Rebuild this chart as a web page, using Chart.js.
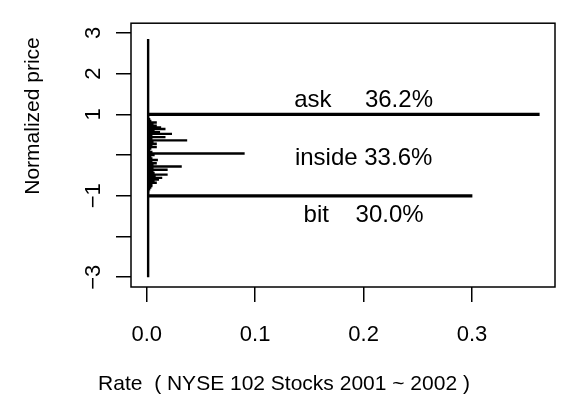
<!DOCTYPE html>
<html>
<head>
<meta charset="utf-8">
<script src="https://cdn.jsdelivr.net/npm/chart.js@4/dist/chart.umd.min.js"></script>
<style>
  html, body { margin: 0; padding: 0; background: #ffffff; }
  canvas { display: block; }
</style>
</head>
<body>
<canvas id="chart" width="571" height="403"></canvas>
<script>
// Trade rate at each normalized price level (bid = -1, ask = +1)
const quoteLevels = [1, -1];
const quoteNames = ['ask', 'bit'];
const quoteShares = [36.2, 30.0];      // percent of trades at the quote
const insideName = 'inside';
const insideShare = 33.6;              // percent of trades strictly inside the spread

// Price levels strictly inside the spread and their rates
const insideLevels = [
  0.96, 0.92, 0.88, 0.84, 0.80, 0.76, 0.72, 0.68, 0.64, 0.60,
  0.56, 0.52, 0.48, 0.44, 0.40, 0.36, 0.32, 0.28, 0.24, 0.20,
  0.16, 0.12, 0.08, 0.04, 0.00, -0.04, -0.08, -0.12, -0.16, -0.20,
  -0.24, -0.28, -0.32, -0.36, -0.40, -0.44, -0.48, -0.52, -0.56, -0.60,
  -0.64, -0.68, -0.72, -0.76, -0.80, -0.84, -0.88, -0.92, -0.96
];
const insideRates = [
  0.001, 0.002, 0.003, 0.004, 0.009, 0.006, 0.009, 0.013, 0.017, 0.007,
  0.012, 0.023, 0.005, 0.017, 0.005, 0.037, 0.006, 0.009, 0.005, 0.009,
  0.004, 0.003, 0.005, 0.090, 0.007, 0.004, 0.005, 0.010, 0.005, 0.009,
  0.006, 0.032, 0.006, 0.019, 0.006, 0.007, 0.019, 0.008, 0.014, 0.011,
  0.007, 0.009, 0.005, 0.005, 0.004, 0.003, 0.002, 0.002, 0.001
];

// Thin tail of rare prices outside the spread, spanning the whole price range
const tailLevels = [-3, 2.85];
const tailRate = 0.0013;

const xTicks = [0, 0.1, 0.2, 0.3];
const xTickLabels = ['0.0', '0.1', '0.2', '0.3'];
const yTicks = [-3, -2, -1, 0, 1, 2, 3];
const yTickLabels = ['\u22123', '', '\u22121', '', '1', '2', '3'];

const xTitle = 'Rate  ( NYSE 102 Stocks 2001 ~ 2002 )';
const yTitle = 'Normalized price';

const FONT = '"Liberation Sans", Arial, Helvetica, sans-serif';

// Text placement of the three share notes (data coordinates)
const noteX = 0.2;
const noteY = [1.35, -0.08, -1.47];
const noteTexts = [
  quoteNames[0] + '     ' + quoteShares[0].toFixed(1) + '%',
  insideName + ' ' + insideShare.toFixed(1) + '%',
  quoteNames[1] + '    ' + quoteShares[1].toFixed(1) + '%'
];

const toPoints = (levels, rates) => levels.map((lv, i) => ({ y: lv, x: rates[i] }));

// Frame, share notes and axis titles
const decorations = {
  id: 'decorations',
  afterDraw(chart) {
    const { ctx, chartArea: a, scales: { x, y } } = chart;
    ctx.save();
    ctx.strokeStyle = '#000';
    ctx.lineWidth = 1.5;
    ctx.strokeRect(a.left, a.top, a.right - a.left, a.bottom - a.top);

    ctx.fillStyle = '#000';
    ctx.textAlign = 'center';
    ctx.textBaseline = 'middle';
    ctx.font = '24px ' + FONT;
    noteTexts.forEach((t, i) => {
      ctx.fillText(t, x.getPixelForValue(noteX), y.getPixelForValue(noteY[i]));
    });

    ctx.font = '21px ' + FONT;
    ctx.fillText(xTitle, 284, 384);
    ctx.translate(33, 116);
    ctx.rotate(-Math.PI / 2);
    ctx.fillText(yTitle, 0, 0);
    ctx.restore();
  }
};

new Chart(document.getElementById('chart'), {
  type: 'bar',
  data: {
    datasets: [
      {
        type: 'line',
        data: tailLevels.map(lv => ({ y: lv, x: tailRate })),
        borderColor: '#000',
        borderWidth: 2.4,
        pointRadius: 0,
        fill: false
      },
      {
        data: toPoints(insideLevels, insideRates),
        backgroundColor: '#000',
        barThickness: 1.7,
        stack: 'levels'
      },
      {
        data: toPoints(quoteLevels, quoteShares.map(s => s / 100)),
        backgroundColor: '#000',
        barThickness: 2.6,
        stack: 'levels'
      }
    ]
  },
  options: {
    indexAxis: 'y',
    responsive: false,
    animation: false,
    layout: { padding: { left: 0, right: 16, top: 16, bottom: 0 } },
    plugins: { legend: { display: false }, tooltip: { enabled: false } },
    scales: {
      x: {
        type: 'linear',
        stacked: false,
        min: -0.0145,
        max: 0.3765,
        afterBuildTicks: s => { s.ticks = xTicks.map(v => ({ value: v })); },
        afterFit: s => { s.height = 116; },
        border: { display: false },
        grid: { drawOnChartArea: false, drawTicks: true, tickLength: 15, color: '#000', lineWidth: 1.5 },
        ticks: {
          autoSkip: false, maxRotation: 0, padding: 20, color: '#000',
          font: { family: FONT, size: 22 },
          callback: (v, i) => xTickLabels[i]
        }
      },
      y: {
        type: 'linear',
        offset: false,
        min: -3.24,
        max: 3.24,
        afterBuildTicks: s => { s.ticks = yTicks.map(v => ({ value: v })); },
        afterFit: s => { s.width = 131; },
        border: { display: false },
        grid: { offset: false, drawOnChartArea: false, drawTicks: true, tickLength: 15, color: '#000', lineWidth: 1.5 },
        ticks: {
          autoSkip: false, minRotation: 90, maxRotation: 90, crossAlign: 'center',
          padding: 10, color: '#000',
          font: { family: FONT, size: 22 },
          callback: (v, i) => yTickLabels[i]
        }
      }
    }
  },
  plugins: [decorations]
});
</script>
</body>
</html>
